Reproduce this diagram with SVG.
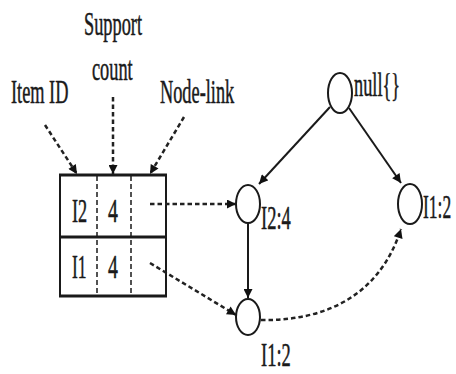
<svg xmlns="http://www.w3.org/2000/svg" width="456" height="374" viewBox="0 0 456 374">
<defs>
<marker id="ah" viewBox="0 0 10 10" refX="10" refY="5" markerWidth="10" markerHeight="9" markerUnits="userSpaceOnUse" orient="auto">
<path d="M0,0 L10,5 L0,10 z" fill="#111"/>
</marker>
</defs>
<style>
text{font-family:"Liberation Serif","Times New Roman",serif;font-size:33px;fill:#1a1a1a;stroke:#1a1a1a;stroke-width:0.5}
.solid{fill:none;stroke:#1a1a1a;stroke-width:2;marker-end:url(#ah)}
.dash{fill:none;stroke:#222;stroke-width:2.5;stroke-dasharray:4.5 3;marker-end:url(#ah)}
.node{fill:#fff;stroke:#1a1a1a;stroke-width:2}
.tab{fill:none;stroke:#1a1a1a}
</style>
<rect width="456" height="374" fill="#fff"/>
<g id="labels">
<text transform="translate(84,35) scale(0.555,1)">Support</text>
<text transform="translate(92,80) scale(0.555,1)">count</text>
<text transform="translate(11,103) scale(0.555,1)">Item ID</text>
<text transform="translate(160,103) scale(0.555,1)">Node-link</text>
</g>
<g id="header-table">
<rect class="tab" x="60" y="175" width="106" height="121" stroke-width="2"/>
<line class="tab" x1="59" y1="175" x2="167" y2="175" stroke-width="3"/>
<line class="tab" x1="59" y1="237" x2="167" y2="237" stroke-width="3"/>
<line class="tab" x1="59" y1="296" x2="167" y2="296" stroke-width="3"/>
<line class="tab" x1="97" y1="176" x2="97" y2="295" stroke-width="1.5" stroke-dasharray="5 3"/>
<line class="tab" x1="131" y1="176" x2="131" y2="295" stroke-width="1.5" stroke-dasharray="5 3"/>
<text transform="translate(72,222) scale(0.555,1)">I2</text>
<text transform="translate(108,222) scale(0.6,1)">4</text>
<text transform="translate(72,278) scale(0.53,1)">I1</text>
<text transform="translate(108,278) scale(0.6,1)">4</text>
</g>
<g id="connectors">
<line class="dash" x1="45" y1="125" x2="77" y2="174"/>
<line class="dash" x1="113" y1="97" x2="113" y2="174"/>
<line class="dash" x1="184" y1="117" x2="150" y2="174"/>
<line class="dash" x1="150" y1="204" x2="236" y2="204"/>
<line class="dash" x1="150" y1="263" x2="236" y2="315"/>
<line class="solid" x1="330" y1="107" x2="259" y2="184"/>
<line class="solid" x1="349" y1="108" x2="401" y2="183"/>
<line class="solid" x1="248" y1="223" x2="248" y2="298"/>
<path class="dash" d="M261,320 C320,321 378,300 401,229"/>
</g>
<g id="node-null">
<ellipse class="node" cx="340" cy="93" rx="12" ry="20"/>
<text transform="translate(354,96) scale(0.555,1)">null{}</text>
</g>
<g id="node-I2-4">
<ellipse class="node" cx="248" cy="204" rx="12" ry="19"/>
<text transform="translate(261,229) scale(0.56,1)">I2:4</text>
</g>
<g id="node-I1-2-right">
<ellipse class="node" cx="410" cy="204" rx="12" ry="20"/>
<text transform="translate(423,218) scale(0.53,1)">I1:2</text>
</g>
<g id="node-I1-2-bottom">
<ellipse class="node" cx="248" cy="317" rx="12" ry="18"/>
<text transform="translate(261,366) scale(0.56,1)">I1:2</text>
</g>
</svg>
